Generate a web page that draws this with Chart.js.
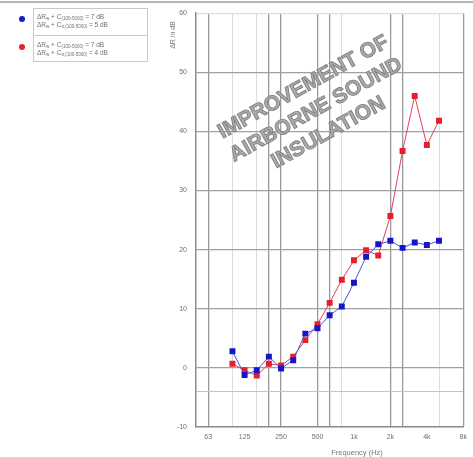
<!DOCTYPE html>
<html>
<head>
<meta charset="utf-8">
<script src="https://cdn.jsdelivr.net/npm/chart.js@4"></script>
<style>
  html,body{margin:0;padding:0;background:#fff;}
  #wrap{position:relative;width:473px;height:457px;overflow:hidden;font-family:"Liberation Sans",Arial,sans-serif;}
  #c{position:absolute;left:0;top:0;}
  #topline{position:absolute;left:0;top:1px;width:473px;height:2px;background:#b5b5b5;}
  #legend{position:absolute;left:33px;top:8px;width:113px;height:52px;border:1px solid #c8c8c8;}
  #legend .sep{position:absolute;left:0;top:26px;width:113px;height:0;border-top:1px solid #c8c8c8;}
  .lt{position:absolute;left:3px;font-size:6.5px;line-height:7px;color:#707070;white-space:nowrap;}
  .lt sub{font-size:4.5px;vertical-align:-1px;line-height:0;}
  .mk{position:absolute;width:6px;height:6px;border-radius:50%;}
  #ytitle{position:absolute;left:172px;top:35px;transform:translate(-50%,-50%) rotate(-90deg);font-size:7px;color:#777;white-space:nowrap;}
  #xtitle{position:absolute;left:357px;top:452px;transform:translate(-50%,-50%);font-size:7.5px;color:#777;white-space:nowrap;}
</style>
</head>
<body>
<div id="wrap">
  <canvas id="c" width="473" height="457"></canvas>
  <div id="topline"></div>
  <div class="mk" style="left:19px;top:16px;background:#1a1ac8;"></div>
  <div class="mk" style="left:19px;top:44px;background:#e8202c;"></div>
  <div id="legend">
    <div class="lt" style="top:4px;">ΔR<sub>w</sub> + C<sub>(100-5000)</sub> = 7 dB</div>
    <div class="lt" style="top:12px;">ΔR<sub>w</sub> + C<sub>tr,(100-5000)</sub> = 5 dB</div>
    <div class="sep"></div>
    <div class="lt" style="top:32px;">ΔR<sub>w</sub> + C<sub>(100-5000)</sub> = 7 dB</div>
    <div class="lt" style="top:40px;">ΔR<sub>w</sub> + C<sub>tr,(100-5000)</sub> = 4 dB</div>
  </div>
  <div id="ytitle">ΔR in dB</div>
  <div id="xtitle">Frequency (Hz)</div>
</div>
<script>
// Third-octave band axis (50 Hz .. 8 kHz)
const axisBands = ['50','63','80','100','125','160','200','250','315','400','500','630','800','1k','1.25k','1.6k','2k','2.5k','3.15k','4k','5k','6.3k','8k'];
// Octave tick labels shown on the axis
const xTickLabels = ['63','125','250','500','1k','2k','4k','8k'];
// Measured bands
const bands = ['100','125','160','200','250','315','400','500','630','800','1k','1.25k','1.6k','2k','2.5k','3.15k','4k','5k'];
// Series (ΔR in dB)
const blueSeries = [2.8,-1.2,-0.4,1.9,-0.1,1.3,5.8,6.7,8.9,10.4,14.4,18.8,20.9,21.5,20.3,21.2,20.8,21.5];
const redSeries  = [0.7,-0.4,-1.3,0.7,0.4,1.9,4.7,7.4,11.0,14.9,18.2,19.9,19.0,25.7,36.7,46.0,37.7,41.8];
// Y tick labels
const yTicks = [-10,0,10,20,30,40,50,60];
// Grid styling groups (band names)
const darkVLines = ['63','200','250','500','630','2k','2.5k','8k'];
const lightVLines = ['100','160','800','5k'];
const extraHLines = [-4];

const toPts = vals => bands.map((b,i)=>({x: axisBands.indexOf(b), y: vals[i]}));

const watermark = {
  id:'watermark',
  beforeDatasetsDraw(chart){
    const ctx = chart.ctx;
    ctx.save();
    ctx.translate(316,110);
    ctx.rotate(-29*Math.PI/180);
    ctx.font = 'bold 21px "Liberation Sans", Arial, sans-serif';
    ctx.textAlign = 'center';
    ctx.textBaseline = 'middle';
    ctx.lineWidth = 0.9;
    ctx.strokeStyle = '#808080';
    ctx.fillStyle = '#ababab';
    const lines = ['IMPROVEMENT OF','AIRBORNE SOUND','INSULATION'];
    lines.forEach((t,i)=>{
      const y = (i-1)*26;
      ctx.fillText(t,0,y);
      ctx.strokeText(t,0,y);
    });
    ctx.restore();
  }
};

new Chart(document.getElementById('c'), {
  type:'line',
  data:{
    datasets:[
      {
        data: toPts(blueSeries),
        borderColor:'#4b55d6', backgroundColor:'#1616c8',
        borderWidth:1, pointStyle:'rect', pointRadius:4.2,
        pointBorderWidth:0, tension:0
      },
      {
        data: toPts(redSeries),
        borderColor:'#e0405a', backgroundColor:'#e81c2c',
        borderWidth:1, pointStyle:'rect', pointRadius:4.2,
        pointBorderWidth:0, tension:0
      }
    ]
  },
  options:{
    responsive:false, animation:false, devicePixelRatio:1,
    layout:{padding:{top:7,right:1,left:0,bottom:0}},
    plugins:{legend:{display:false}, tooltip:{enabled:false}},
    scales:{
      x:{
        type:'linear', min:0, max:axisBands.length-1,
        afterFit(s){ s.height = 30; },
        afterBuildTicks(s){ s.ticks = axisBands.map((b,i)=>({value:i})); },
        border:{display:true,color:'#8c8c8c',width:1.5},
        grid:{
          drawTicks:false,
          color(c){
            const b = axisBands[c.tick.value];
            if (darkVLines.includes(b)) return '#9a9a9a';
            if (lightVLines.includes(b)) return '#dcdcdc';
            return 'rgba(0,0,0,0)';
          },
          lineWidth(c){ return darkVLines.includes(axisBands[c.tick.value]) ? 1.3 : 1; }
        },
        ticks:{
          padding:6, autoSkip:false, maxRotation:0,
          font:{size:7, family:'"Liberation Sans", Arial, sans-serif'}, color:'#707070',
          callback(v){ const b = axisBands[v]; return xTickLabels.includes(b) ? b : ''; }
        }
      },
      y:{
        type:'linear', min:yTicks[0], max:yTicks[yTicks.length-1],
        afterFit(s){ s.width = 196; },
        afterBuildTicks(s){
          const vals = yTicks.concat(extraHLines).sort((a,b)=>a-b);
          s.ticks = vals.map(v=>({value:v}));
        },
        border:{display:true,color:'#8c8c8c',width:1.5},
        grid:{
          drawTicks:false,
          color(c){
            const v = c.tick.value;
            if (extraHLines.includes(v)) return '#c4c4c4';
            if (v === yTicks[yTicks.length-1] || v === yTicks[0]) return '#dddddd';
            return '#a0a0a0';
          },
          lineWidth(c){ return extraHLines.includes(c.tick.value) ? 1 : 1.3; }
        },
        ticks:{
          padding:9, autoSkip:false,
          font:{size:7, family:'"Liberation Sans", Arial, sans-serif'}, color:'#707070',
          callback(v){ return yTicks.includes(v) ? String(v) : ''; }
        }
      }
    }
  },
  plugins:[watermark]
});
</script>
</body>
</html>
